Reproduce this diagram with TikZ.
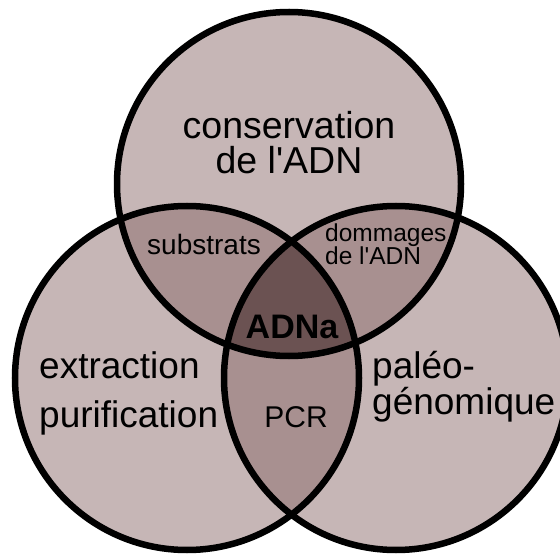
\documentclass[tikz,border=0pt]{standalone}
\usepackage{fontspec}
\setmainfont{Liberation Sans}
\usepackage{xcolor}

\definecolor{venlight}{HTML}{C6B6B6}
\definecolor{venmid}{HTML}{A89090}
\definecolor{vendark}{HTML}{6B5252}
\newcommand{\vennr}{172pt}

\begin{document}
\begin{tikzpicture}[
  x=1pt, y=-1pt,
  ring/.style={line width=6.5pt, draw=black},
  lbl/.style={inner sep=0pt, text=black},
]
\useasboundingbox (0,0) rectangle (560,556);
\clip (0,0) rectangle (560,556);

\coordinate (cons) at (289,184);
\coordinate (extr) at (187,378);
\coordinate (paleo) at (396,378);

% fills
\fill[venlight] (cons) circle[radius=\vennr] (extr) circle[radius=\vennr] (paleo) circle[radius=\vennr];
\begin{scope}
  \clip (cons) circle[radius=\vennr];
  \fill[venmid] (extr) circle[radius=\vennr] (paleo) circle[radius=\vennr];
\end{scope}
\begin{scope}
  \clip (extr) circle[radius=\vennr];
  \fill[venmid] (paleo) circle[radius=\vennr];
\end{scope}
\begin{scope}
  \clip (cons) circle[radius=\vennr];
  \clip (extr) circle[radius=\vennr];
  \fill[vendark] (paleo) circle[radius=\vennr];
\end{scope}

% rings
\draw[ring] (cons) circle[radius=\vennr];
\draw[ring] (extr) circle[radius=\vennr];
\draw[ring] (paleo) circle[radius=\vennr];

% labels
\node[lbl, anchor=base, align=center, font=\fontsize{37.5}{35}\selectfont] (conslbl) at (289,174) {conservation\\de l\textquotesingle ADN};
\node[lbl, anchor=base, font=\fontsize{28}{30}\selectfont] (subs) at (204,255) {substrats};
\node[lbl, anchor=base west, align=left, font=\fontsize{24.5}{22}\selectfont] (domm) at (325,265) {dommages\\de l\textquotesingle ADN};
\node[lbl, anchor=base, font=\fontsize{34}{36}\selectfont\bfseries] (adna) at (292,338) {ADNa};
\node[lbl, anchor=base west, align=left, font=\fontsize{37}{49}\selectfont] (extrlbl) at (39,427) {extraction\\purification};
\node[lbl, anchor=base, font=\fontsize{30}{32}\selectfont] (pcr) at (296,427) {PCR};
\node[lbl, anchor=base west, align=left, font=\fontsize{37}{34}\selectfont] (paleolbl) at (372,414) {paléo-\\génomique};
\end{tikzpicture}
\end{document}
